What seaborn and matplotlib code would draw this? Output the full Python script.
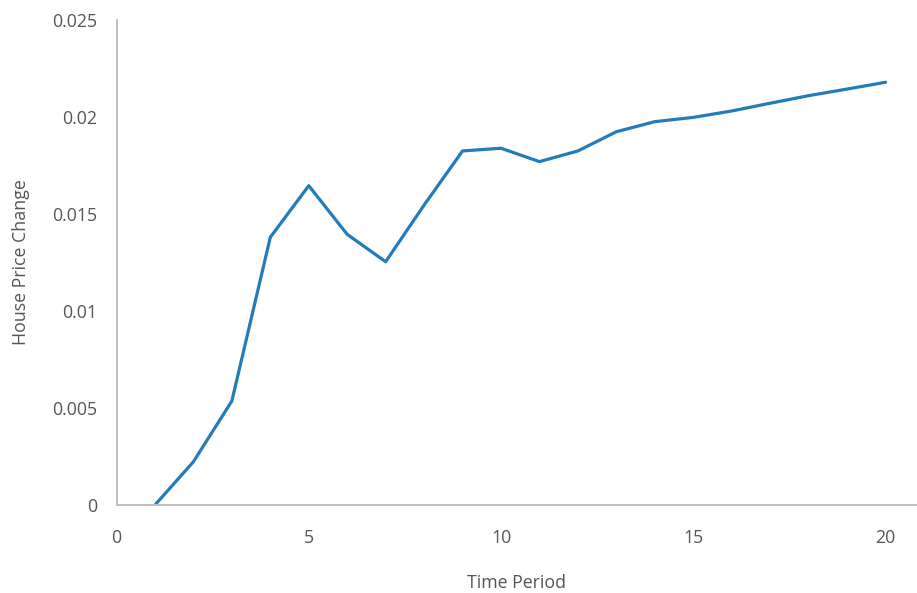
import matplotlib
matplotlib.use("Agg")
import matplotlib.pyplot as plt
import seaborn as sns
import pandas as pd

time_period = [1, 2, 3, 4, 5, 6, 7, 8, 9, 10, 11, 12, 13, 14, 15, 16, 17, 18, 19, 20]
house_price_change = [0.0, 0.00223, 0.00536, 0.0138, 0.01646, 0.01395, 0.01254, 0.01546,
                      0.01825, 0.01839, 0.0177, 0.01825, 0.01924, 0.01976, 0.01998,
                      0.02031, 0.02071, 0.0211, 0.02144, 0.02179]
x_ticks = [0, 5, 10, 15, 20]
y_ticks = [0, 0.005, 0.01, 0.015, 0.02, 0.025]
y_tick_labels = ["0", "0.005", "0.01", "0.015", "0.02", "0.025"]

df = pd.DataFrame({"Time Period": time_period, "House Price Change": house_price_change})

sns.set_theme(style="white")
plt.rcParams["font.family"] = ["Open Sans", "DejaVu Sans"]

W, H = 917, 593
fig = plt.figure(figsize=(W / 100, H / 100), dpi=100)
left, right, top, bottom = 116.5, 917, 20, 505
ax = fig.add_axes([left / W, (H - bottom) / H, (right - left) / W, (bottom - top) / H])

sns.lineplot(data=df, x="Time Period", y="House Price Change", ax=ax,
             color="#237BBA", linewidth=2.3)

ax.set_xlim(0, (right - left) / 38.45)
ax.set_ylim(0, 0.025)
ax.set_xticks(x_ticks)
ax.set_xticklabels([str(t) for t in x_ticks])
ax.set_yticks(y_ticks)
ax.set_yticklabels(y_tick_labels)

text_color = "#555555"
ax.tick_params(axis="both", length=0, labelsize=12.8, colors=text_color)
ax.tick_params(axis="x", pad=17)
ax.tick_params(axis="y", pad=14)
ax.set_xlabel("Time Period", fontsize=12.8, color=text_color, labelpad=20)
ax.set_ylabel("House Price Change", fontsize=12.8, color=text_color, labelpad=16)

for s in ["top", "right"]:
    ax.spines[s].set_visible(False)
for s in ["left", "bottom"]:
    ax.spines[s].set_color("#BFBFBF")
    ax.spines[s].set_linewidth(1.4)

fig.savefig("out.png", dpi=100)
